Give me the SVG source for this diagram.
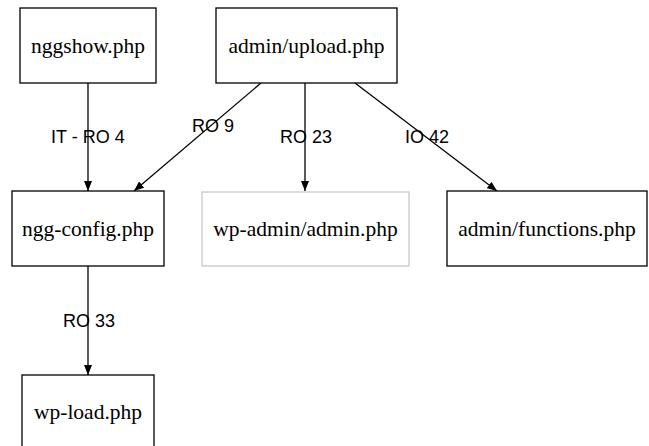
<svg xmlns="http://www.w3.org/2000/svg" width="649" height="446" viewBox="0 0 649 446">
<style>
.box{fill:#fff;stroke:#000;stroke-width:1.3}
.gray{stroke:#c8c8c8}
.nt{font-family:"Liberation Serif",serif;font-size:21.5px;text-anchor:middle;fill:#000}
.el{stroke:#000;stroke-width:1.3;fill:none;marker-end:url(#ah)}
.lt{font-family:"Liberation Sans",sans-serif;font-size:18px;fill:#000}
</style>
<defs>
<marker id="ah" viewBox="0 0 10 8" refX="10" refY="4" markerWidth="10" markerHeight="8" markerUnits="userSpaceOnUse" orient="auto">
<path d="M0,0 L10,4 L0,8 Z" fill="#000"/>
</marker>
</defs>
<rect width="649" height="446" fill="#fff"/>
<g id="connectors">
<line class="el" x1="88" y1="83" x2="88" y2="191"/>
<line class="el" x1="261" y1="83" x2="134" y2="191"/>
<line class="el" x1="305" y1="83" x2="305" y2="191"/>
<line class="el" x1="355" y1="83" x2="497" y2="191"/>
<line class="el" x1="88" y1="266" x2="88" y2="375"/>
<text class="lt" x="51" y="143">IT - RO 4</text>
<text class="lt" x="192" y="132">RO 9</text>
<text class="lt" x="280" y="143">RO 23</text>
<text class="lt" x="405" y="143">IO 42</text>
<text class="lt" x="63" y="327">RO 33</text>
</g>
<g id="nggshow"><rect class="box" x="20" y="8" width="136" height="75"/><text class="nt" x="88" y="53">nggshow.php</text></g>
<g id="upload"><rect class="box" x="216" y="8" width="181" height="75"/><text class="nt" x="306.5" y="53">admin/upload.php</text></g>
<g id="nggconfig"><rect class="box" x="12" y="191" width="152" height="75"/><text class="nt" x="88" y="236">ngg-config.php</text></g>
<g id="wpadmin"><rect class="box gray" x="202" y="192" width="207" height="74"/><text class="nt" x="305.5" y="236">wp-admin/admin.php</text></g>
<g id="functions"><rect class="box" x="447" y="191" width="200" height="75"/><text class="nt" x="547" y="236">admin/functions.php</text></g>
<g id="wpload"><rect class="box" x="22" y="375" width="132" height="75"/><text class="nt" x="88" y="419">wp-load.php</text></g>
</svg>
